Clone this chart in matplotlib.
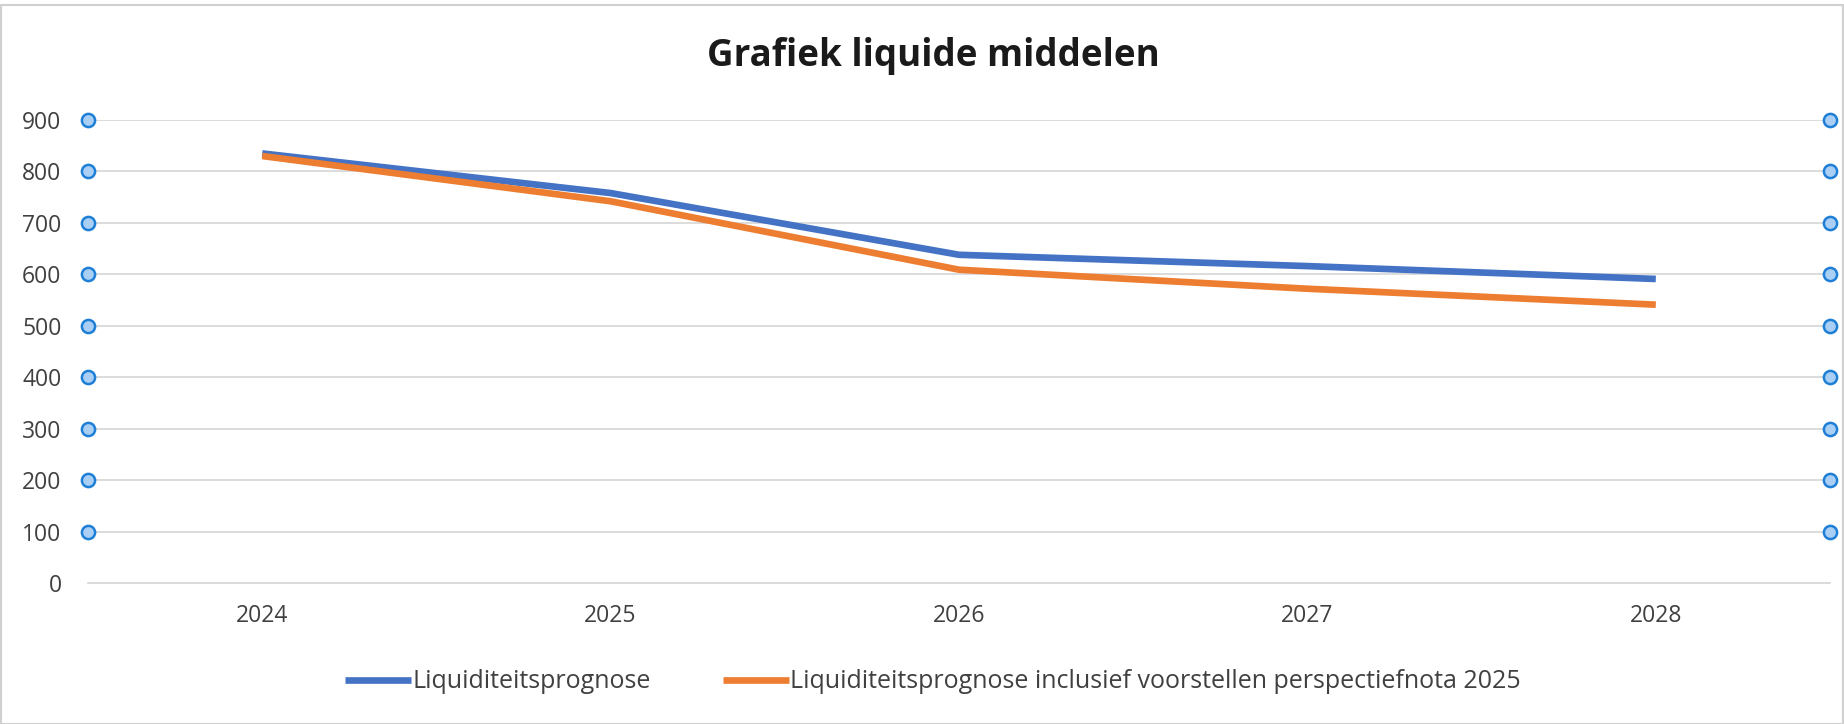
import matplotlib
matplotlib.use("Agg")
from matplotlib import pyplot as plt
from matplotlib.patches import Rectangle

# Grafiek liquide middelen
jaren = ["2024", "2025", "2026", "2027", "2028"]
prognose = [835, 758, 638, 616, 591]
prognose_incl = [830, 742, 609, 572, 541]
y_ticks = [0, 100, 200, 300, 400, 500, 600, 700, 800, 900]
titel = "Grafiek liquide middelen"
label_1 = "Liquiditeitsprognose"
label_2 = "Liquiditeitsprognose inclusief voorstellen perspectiefnota 2025"

W, H = 1844, 724
fig = plt.figure(figsize=(W / 100, H / 100), dpi=100)
fig.patch.set_facecolor("white")

# plot area in pixels
links, rechts, boven, onder = 88, 1830, 120, 583
ax = fig.add_axes([links / W, 1 - onder / H, (rechts - links) / W, (onder - boven) / H])

x = list(range(len(jaren)))
ax.plot(x, prognose, color="#4472C4", lw=4.8, solid_joinstyle="round",
        solid_capstyle="butt", label=label_1, zorder=3)
ax.plot(x, prognose_incl, color="#ED7D31", lw=4.8, solid_joinstyle="round",
        solid_capstyle="butt", label=label_2, zorder=3)

ax.set_xlim(-0.5, len(jaren) - 0.5)
ax.set_ylim(0, 900)
ax.set_yticks(y_ticks)
ax.set_xticks(x)
ax.set_xticklabels(jaren)
ax.grid(axis="y", color="#d9d9d9", lw=1.3)
ax.set_axisbelow(True)
for s in ["top", "right", "left"]:
    ax.spines[s].set_visible(False)
ax.spines["bottom"].set_color("#d9d9d9")
ax.spines["bottom"].set_linewidth(1.3)
ax.tick_params(length=0, labelsize=16.5, labelcolor="#404040")
ax.tick_params(axis="y", pad=19)
ax.tick_params(axis="x", pad=15)
for t in ax.get_xticklabels() + ax.get_yticklabels():
    t.set_fontfamily("Open Sans")
    t.set_fontstretch("normal")

# selection handles on the gridlines
for xe in ax.get_xlim():
    ax.plot([xe] * (len(y_ticks) - 1), y_ticks[1:], ls="none", marker="o",
            ms=9.5, mfc="#a9cff5", mec="#1f7fd6", mew=1.8, clip_on=False, zorder=4)

fig.text(933 / W, 1 - 56 / H, titel, ha="center", va="center", fontsize=26.5,
         fontweight="bold", fontstretch="normal", family="Open Sans", color="#1a1a1a")

leg = fig.legend(loc="center", bbox_to_anchor=(933 / W, 1 - 682 / H), ncol=2,
                 frameon=False, handlelength=2.64, handletextpad=0.05,
                 columnspacing=2.9,
                 prop={"family": "Open Sans", "stretch": "normal", "size": 18})
for t in leg.get_texts():
    t.set_color("#404040")

fig.patches.append(Rectangle((0.5 / W, 0.5 / H), 1 - 2 / W, 1 - 5 / H, transform=fig.transFigure,
                             fill=False, ec="#d0d0d0", lw=1.5))

fig.savefig("out.png", dpi=100)
